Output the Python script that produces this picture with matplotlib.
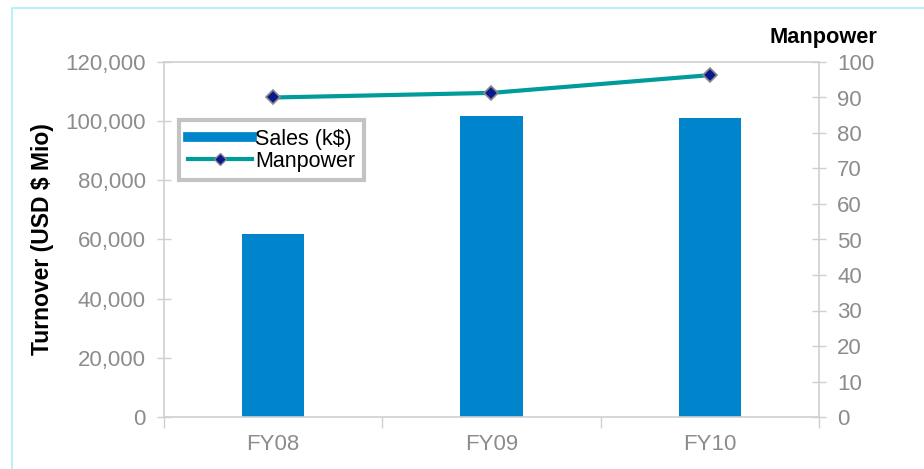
import matplotlib
matplotlib.use("Agg")
import matplotlib.pyplot as plt
from matplotlib.lines import Line2D
from matplotlib.patches import Rectangle

plt.rcParams['font.family'] = ['Liberation Sans', 'DejaVu Sans']

categories = ["FY08", "FY09", "FY10"]
sales = [61800, 101700, 101000]
manpower = [90.0, 91.3, 96.3]
left_ticks = [0, 20000, 40000, 60000, 80000, 100000, 120000]
right_ticks = [0, 10, 20, 30, 40, 50, 60, 70, 80, 90, 100]

bar_color = "#0084CC"
line_color = "#009B9B"
grid_gray = "#D0D0D0"
tick_gray = "#8C8C8C"
FS = 16

fig = plt.figure(figsize=(9.24, 4.69), dpi=100)
W, H = 924, 469
ax = fig.add_axes([164 / W, 1 - 417 / H, (819 - 164) / W, (417 - 62) / H])

x = list(range(len(categories)))
ax.bar(x, sales, width=0.285, color=bar_color, zorder=2)
ax.set_xlim(-0.5, 2.5)
ax.set_ylim(0, 120000)
ax.set_yticks(left_ticks)
ax.set_yticklabels([f"{v:,}" for v in left_ticks])
ax.set_xticks(x)
ax.set_xticklabels(categories)
ax.set_xticks([-0.5, 0.5, 1.5, 2.5], minor=True)
ax.tick_params(axis='x', which='major', length=0, pad=12, labelsize=FS, labelcolor=tick_gray)
ax.tick_params(axis='x', which='minor', direction='out', length=8, width=1, color=grid_gray)
ax.tick_params(axis='y', direction='inout', length=10, width=1, color=grid_gray,
               labelsize=FS, labelcolor=tick_gray, pad=8)
for s in ['left', 'top', 'bottom']:
    ax.spines[s].set_color(grid_gray)
    ax.spines[s].set_linewidth(1.2)
ax.spines['right'].set_visible(False)
ax.set_ylabel("Turnover (USD $ Mio)", fontsize=16.5, fontweight='bold', labelpad=8)

ax2 = ax.twinx()
ax2.plot(x, manpower, color=line_color, lw=3, marker='D', markersize=7,
         markerfacecolor='#0A1A8C', markeredgecolor='#8A8A8A', markeredgewidth=1.2, zorder=3)
ax2.set_ylim(0, 100)
ax2.set_yticks(right_ticks)
ax2.tick_params(axis='y', direction='inout', length=10, width=1, color=grid_gray,
                labelsize=FS, labelcolor=tick_gray, pad=8)
for s in ['left', 'top', 'bottom']:
    ax2.spines[s].set_visible(False)
ax2.spines['right'].set_color(grid_gray)
ax2.spines['right'].set_linewidth(1.2)

fig.text(877 / W, 1 - 37 / H, "Manpower", ha='right', va='center',
         fontsize=15.7, fontweight='bold')

handles = [Line2D([0], [0], color=bar_color, lw=7),
           Line2D([0], [0], color=line_color, lw=3, marker='D', markersize=6,
                  markerfacecolor='#0A1A8C', markeredgecolor='#8A8A8A')]
leg = ax.legend(handles, ["Sales (k$)", "Manpower"], loc='upper left',
                bbox_to_anchor=((179 - 164) / (819 - 164), (417 - 120) / (417 - 62)),
                frameon=True, fancybox=False, fontsize=15.5, handlelength=3.0,
                handletextpad=0.15, borderpad=0.4, labelspacing=0.05, borderaxespad=0)
leg.get_frame().set_edgecolor('#B4B4B4')
leg.get_frame().set_linewidth(3)

# cyan outer frame
fig.add_artist(Rectangle((12 / W, -0.1), 1.2, 1 - 8 / H + 0.1, transform=fig.transFigure,
                         fill=False, edgecolor='#A8F0F8', lw=1.2))

fig.savefig("out.png", dpi=100)
